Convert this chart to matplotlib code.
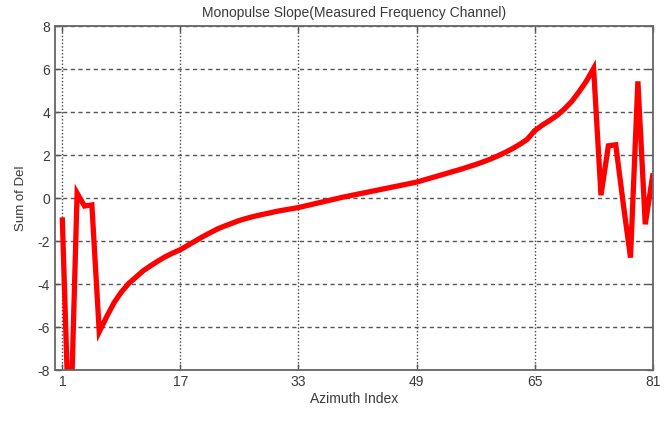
import numpy as np
import matplotlib.pyplot as plt

# valores (índice de azimute 1..81)
azimute = np.arange(1, 82)
soma_del = [
    -1.0, -12.0, 0.25, -0.35, -0.3, -6.2, -5.5, -4.85, -4.35, -3.95,
    -3.65, -3.35, -3.12, -2.9, -2.7, -2.53, -2.38, -2.18, -1.98, -1.78,
    -1.6, -1.42, -1.28, -1.15, -1.02, -0.92, -0.83, -0.75, -0.68, -0.6,
    -0.54, -0.48, -0.42, -0.34, -0.26, -0.18, -0.1, -0.02, 0.06, 0.13,
    0.2, 0.27, 0.34, 0.41, 0.48, 0.55, 0.62, 0.69, 0.76, 0.86,
    0.96, 1.06, 1.16, 1.26, 1.36, 1.47, 1.58, 1.7, 1.83, 1.98,
    2.14, 2.32, 2.52, 2.75, 3.15, 3.4, 3.62, 3.85, 4.15, 4.5,
    4.95, 5.45, 6.05, 0.15, 2.45, 2.5, -0.2, -2.75, 5.45, -1.2,
    1.05,
]

xticks = [1, 17, 33, 49, 65, 81]
yticks = [-8, -6, -4, -2, 0, 2, 4, 6, 8]

plt.rcParams['font.family'] = ['Liberation Sans', 'DejaVu Sans']
plt.rcParams['axes.unicode_minus'] = False
cinza = '#3a3a3a'

fig = plt.figure(figsize=(6.68, 4.26), dpi=100)
ax = fig.add_axes([0.0823, 0.1303, 0.8947, 0.8075])

ax.plot(azimute, soma_del, color='#ff0000', lw=3.8, solid_joinstyle='miter')

ax.set_xlim(0, 81)
ax.set_ylim(-8, 8)
ax.set_xticks(xticks)
ax.set_yticks(yticks)

for y in yticks:
    ax.axhline(y, color='#555555', lw=1.0, ls=(0, (3, 2.5)), zorder=0)
for x in xticks:
    ax.axvline(x, color='#444444', lw=1.0, ls=(0, (1, 1.5)), zorder=0)

ax.tick_params(direction='in', top=True, right=True, length=4, width=1,
               colors='#555555', labelcolor=cinza, labelsize=10)
for s in ax.spines.values():
    s.set_color('#666666')
    s.set_linewidth(1.3)

ax.set_title('Monopulse Slope(Measured Frequency Channel)', fontsize=10,
             color=cinza, pad=7)
ax.set_xlabel('Azimuth Index', fontsize=10, color=cinza, labelpad=2)
ax.set_ylabel('Sum of Del', fontsize=9.5, color=cinza, labelpad=8)

fig.savefig('out.png', dpi=100)
